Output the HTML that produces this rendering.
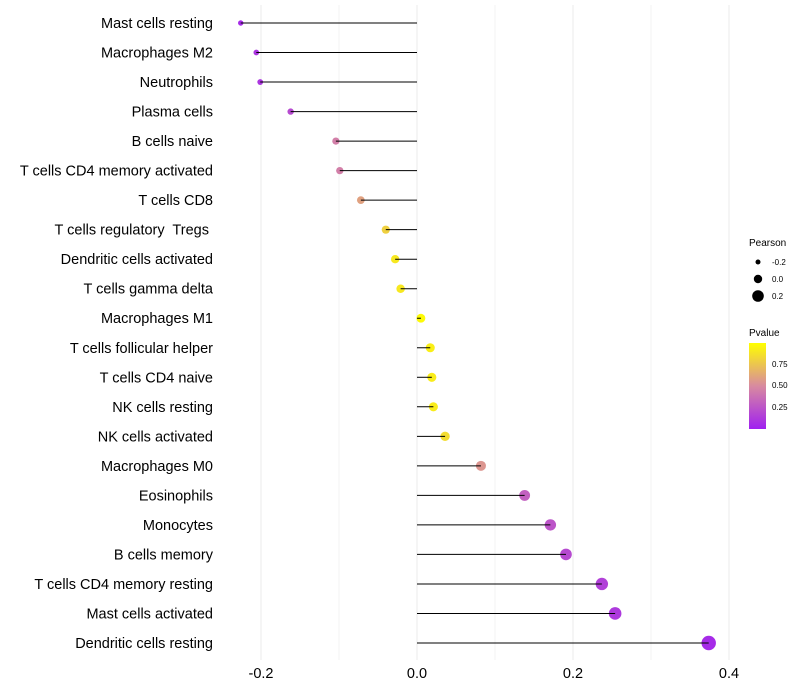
<!DOCTYPE html>
<html><head><meta charset="utf-8"><style>
body{margin:0;background:#fff;font-family:"Liberation Sans",sans-serif}
svg{display:block}
#ylabels text{white-space:pre}
</style></head><body>
<svg id="chart" width="800" height="700" xmlns="http://www.w3.org/2000/svg">
<defs><linearGradient id="pg" x1="0" y1="1" x2="0" y2="0">
<stop offset="0" stop-color="#a020f0"/><stop offset="0.5" stop-color="#d88aa0"/><stop offset="1" stop-color="#ffff00"/></linearGradient></defs>
<g id="grid"></g>
<g id="marks"></g>
<g id="ylabels"></g>
<g id="xlabels"></g>
<g font-size="10" fill="#000">
<text x="749" y="246">Pearson</text>
<circle cx="758" cy="262" r="2.5"/><text x="772" y="265" font-size="8">-0.2</text>
<circle cx="758" cy="279" r="4.2"/><text x="772" y="282" font-size="8">0.0</text>
<circle cx="758" cy="296" r="5.8"/><text x="772" y="299" font-size="8">0.2</text>
</g>
<g font-size="10">
<text x="749" y="336">Pvalue</text>
<rect x="749" y="343" width="17" height="86" fill="url(#pg)"/>
<text x="772" y="367" font-size="8">0.75</text>
<text x="772" y="388" font-size="8">0.50</text>
<text x="772" y="410" font-size="8">0.25</text>
</g>
</svg>
<script>
const categories=["Mast cells resting","Macrophages M2","Neutrophils","Plasma cells","B cells naive","T cells CD4 memory activated","T cells CD8","T cells regulatory  Tregs ","Dendritic cells activated","T cells gamma delta","Macrophages M1","T cells follicular helper","T cells CD4 naive","NK cells resting","NK cells activated","Macrophages M0","Eosinophils","Monocytes","B cells memory","T cells CD4 memory resting","Mast cells activated","Dendritic cells resting"];
const pearson=[-0.226,-0.206,-0.201,-0.162,-0.104,-0.099,-0.072,-0.040,-0.028,-0.021,0.005,0.017,0.019,0.021,0.036,0.082,0.138,0.171,0.191,0.237,0.254,0.374];
const pvalues=[0.05,0.1,0.1,0.2,0.45,0.45,0.6,0.8,0.9,0.9,0.98,0.93,0.92,0.92,0.85,0.55,0.3,0.25,0.2,0.15,0.12,0.05];
const xTicks=[-0.2,0,0.2,0.4];
const xTickLabels=["-0.2","0.0","0.2","0.4"];
const NS="http://www.w3.org/2000/svg";
const xs=v=>417+v*780;
const ys=i=>23+i*(620/21);
const rs=v=>4.4+v*7.5;
function col(p){
 const stops=[[0,[160,32,240]],[0.5,[216,138,160]],[1,[255,255,0]]];
 let a=stops[0],b=stops[1];if(p>0.5){a=stops[1];b=stops[2];}
 const t=(p-a[0])/(b[0]-a[0]);
 return "rgb("+a[1].map((c,k)=>Math.round(c+(b[1][k]-c)*t)).join(",")+")";
}
function mk(t,attrs,parent){const e=document.createElementNS(NS,t);for(const k in attrs)e.setAttribute(k,attrs[k]);parent.appendChild(e);return e;}
const grid=document.getElementById('grid'),marks=document.getElementById('marks'),yl=document.getElementById('ylabels'),xl=document.getElementById('xlabels');
for(let v=-0.2;v<=0.41;v+=0.1){
 const g=mk('line',{x1:xs(v),x2:xs(v),y1:5,y2:660,stroke:'#ebebeb','stroke-width':Math.abs(Math.round(v*10))%2===0?1:0.6},grid);
 
 
}
categories.forEach((c,i)=>{
 const y=ys(i);
 const cc=mk('circle',{cx:xs(pearson[i]),cy:y,r:rs(pearson[i]),fill:col(pvalues[i])},marks);
 
 
 const l=mk('line',{x1:xs(0),x2:xs(pearson[i]),y1:y,y2:y,stroke:'#000','stroke-width':1},marks);
 
 
 const t=mk('text',{x:213,y:y+5,'text-anchor':'end','font-size':14.5,fill:'#000'},yl);
 t.textContent=c;
 
 
});
xTicks.forEach((v,i)=>{
 const t=mk('text',{x:xs(v),y:678,'text-anchor':'middle','font-size':14.5,fill:'#000'},xl);
 t.textContent=xTickLabels[i];
 
 
});
</script>
</body></html>
